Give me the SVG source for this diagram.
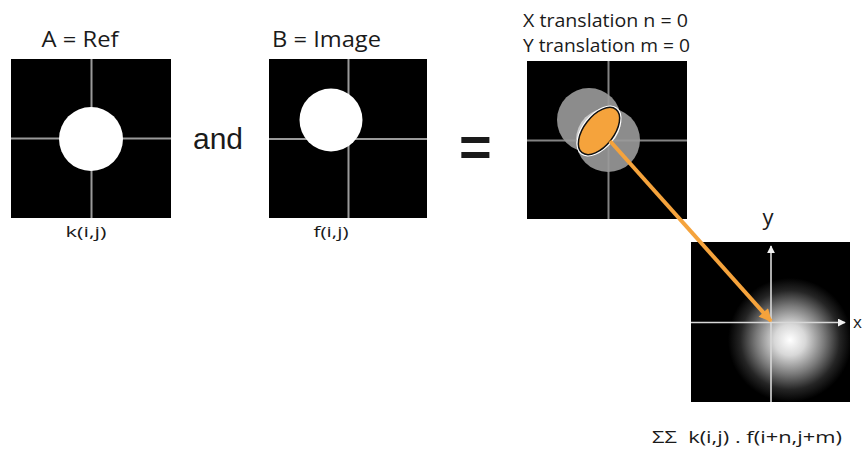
<svg xmlns="http://www.w3.org/2000/svg" width="865" height="449" viewBox="0 0 865 449">
<style>
.t{font-family:"Open Sans",Lato,"Liberation Sans",sans-serif;fill:#1a1a1a}
.ar{font-family:"Liberation Sans",Arial,sans-serif;fill:#1a1a1a}
.box{fill:#000}
.grid{stroke:#9a9a9a;stroke-width:2}
.ax{stroke:#d8d8d8;stroke-width:1.6}
</style>
<defs>
<radialGradient id="glow" cx="790" cy="340" r="62" gradientUnits="userSpaceOnUse">
<stop offset="0" stop-color="#fff"/>
<stop offset="0.25" stop-color="#d8d8d8"/>
<stop offset="0.55" stop-color="#7a7a7a"/>
<stop offset="0.8" stop-color="#252525"/>
<stop offset="1" stop-color="#000"/>
</radialGradient>
<marker id="oarrow" viewBox="0 0 10 10" refX="9" refY="5" markerWidth="3.6" markerHeight="3.2" orient="auto" markerUnits="strokeWidth">
<path d="M0,0 L10,5 L0,10 z" fill="#F5A33C"/>
</marker>
<marker id="warrow" viewBox="0 0 10 10" refX="9" refY="5" markerWidth="5" markerHeight="5" orient="auto" markerUnits="strokeWidth">
<path d="M0,0 L10,5 L0,10 z" fill="#f0f0f0"/>
</marker>
</defs>
<rect width="865" height="449" fill="#fff"/>

<g id="boxA">
<text class="t" x="80" y="47" font-size="22" text-anchor="middle" textLength="77" lengthAdjust="spacingAndGlyphs">A = Ref</text>
<rect class="box" x="11" y="59" width="160" height="159"/>
<line class="grid" x1="91.5" y1="59" x2="91.5" y2="218"/>
<line class="grid" x1="11" y1="138.5" x2="171" y2="138.5"/>
<circle cx="91" cy="139" r="32" fill="#fff"/>
<text class="t" x="86" y="237" font-size="15" text-anchor="middle" textLength="41" lengthAdjust="spacingAndGlyphs">k(i,j)</text>
</g>

<g id="andLabel">
<text class="ar" x="193" y="149" font-size="30">and</text>
</g>

<g id="boxB">
<text class="t" x="272" y="47" font-size="22" textLength="109" lengthAdjust="spacingAndGlyphs">B = Image</text>
<rect class="box" x="269" y="59" width="158" height="159"/>
<line class="grid" x1="348.5" y1="59" x2="348.5" y2="218"/>
<line class="grid" x1="269" y1="139" x2="427" y2="139"/>
<circle cx="331" cy="120" r="31.5" fill="#fff"/>
<text class="t" x="331" y="237" font-size="15" text-anchor="middle" textLength="35" lengthAdjust="spacingAndGlyphs">f(i,j)</text>
</g>

<g id="equals">
<text class="ar" x="459" y="166" font-size="56" font-weight="bold">=</text>
</g>

<g id="boxC">
<text class="t" x="523" y="27" font-size="17.5" textLength="165" lengthAdjust="spacingAndGlyphs">X translation n = 0</text>
<text class="t" x="523" y="52" font-size="17.5" textLength="167" lengthAdjust="spacingAndGlyphs">Y translation m = 0</text>
<rect class="box" x="527" y="61" width="160" height="158"/>
<circle cx="589" cy="120" r="32" fill="#fff" fill-opacity="0.55"/>
<circle cx="608" cy="140" r="32" fill="#fff" fill-opacity="0.55"/>
<line class="grid" x1="608.5" y1="61" x2="608.5" y2="219" stroke="#bbb" stroke-opacity="0.85"/>
<line class="grid" x1="527" y1="140.5" x2="687" y2="140.5" stroke="#bbb" stroke-opacity="0.85"/>
<ellipse cx="599" cy="131" rx="29.5" ry="17" transform="rotate(-52 599 131)" fill="#fff"/>
<ellipse cx="599" cy="131" rx="27.5" ry="15" transform="rotate(-52 599 131)" fill="#F5A33C" stroke="#111" stroke-width="1.5"/>
</g>

<g id="boxD">
<text class="t" x="768" y="225" font-size="22" text-anchor="middle">y</text>
<text class="t" x="853" y="328" font-size="17">x</text>
<rect class="box" x="691" y="242" width="159" height="160"/>
<rect x="691" y="242" width="159" height="160" fill="url(#glow)"/>
<line class="ax" x1="771" y1="402" x2="771" y2="246" marker-end="url(#warrow)"/>
<line class="ax" x1="691" y1="322.5" x2="845" y2="322.5" marker-end="url(#warrow)"/>
<text class="t" x="652" y="443" font-size="15.5" xml:space="preserve" textLength="190" lengthAdjust="spacingAndGlyphs">ΣΣ  k(i,j) . f(i+n,j+m)</text>
</g>

<g id="connectors">
<line x1="610" y1="141" x2="771" y2="321" stroke="#F5A33C" stroke-width="4" marker-end="url(#oarrow)"/>
</g>
</svg>
